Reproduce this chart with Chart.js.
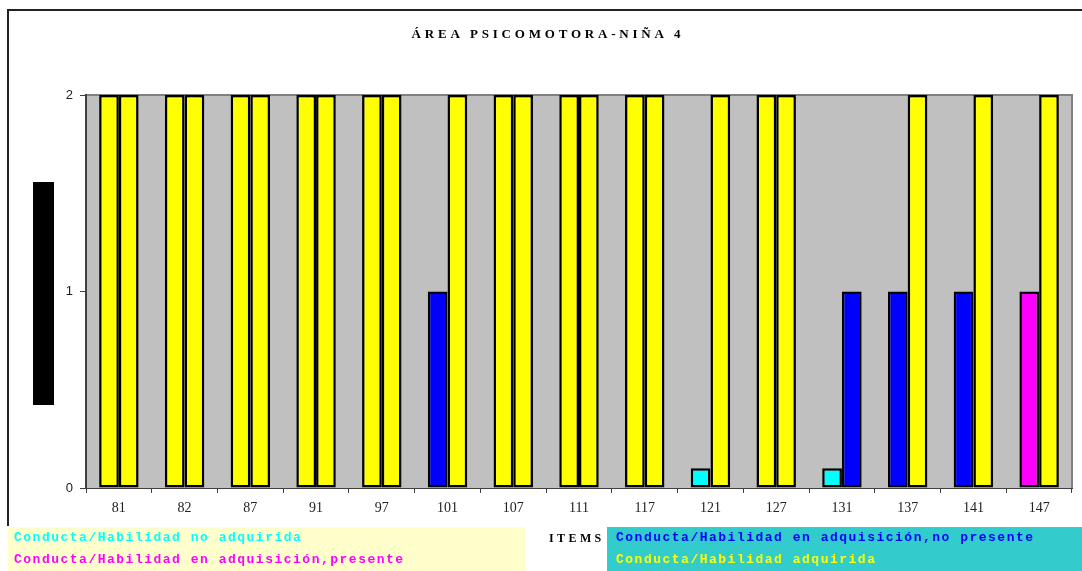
<!DOCTYPE html>
<html lang="es">
<head>
<meta charset="utf-8">
<title>Área psicomotora - Niña 4</title>
<script src="https://cdn.jsdelivr.net/npm/chart.js@4.4.1/dist/chart.umd.min.js"></script>
<style>
    html, body { margin: 0; padding: 0; background: #fff; }
    #contenedor { position: relative; width: 1082px; height: 571px; overflow: hidden; }
    #marco { position: absolute; left: 7px; top: 9px; width: 1090px; height: 517px;
             border-top: 2px solid #222; border-left: 2px solid #222; box-sizing: border-box; }
    #titulo { position: absolute; left: 0; width: 1096px; top: 26px; text-align: center;
              font: bold 13px 'Liberation Serif', serif; letter-spacing: 3.8px; color: #000; }
    #ejeY { position: absolute; left: 33px; top: 182px; width: 21px; height: 223px; background: #000; }
    #ejeX { position: absolute; left: 549px; top: 531px;
            font: bold 12px 'Liberation Serif', serif; letter-spacing: 3.4px; color: #000; }
    .leyenda { position: absolute; top: 527px; height: 44px; box-sizing: border-box;
               font: bold 13px 'Liberation Mono', monospace; letter-spacing: 1.5px; }
    .leyenda div { height: 22px; line-height: 22px; }
    #leyenda1 { left: 8px; width: 517px; background: #FFFFCC; padding-left: 6px; }
    #leyenda2 { left: 607px; width: 475px; background: #33CCCC; padding-left: 9px; }
    canvas { position: absolute; left: 0; top: 0; }
</style>
</head>
<body>
<div id="contenedor">
    <canvas id="graficoItems" width="1082" height="571"></canvas>
    <div id="marco"></div>
    <div id="titulo">ÁREA PSICOMOTORA-NIÑA 4</div>
    <div id="ejeY"></div>
    <div id="ejeX">ITEMS</div>
    <div class="leyenda" id="leyenda1">
        <div style="color:#00FFFF">Conducta/Habilidad no adquirida</div>
        <div style="color:#FF00FF">Conducta/Habilidad en adquisición,presente</div>
    </div>
    <div class="leyenda" id="leyenda2">
        <div style="color:#0000FF">Conducta/Habilidad en adquisición,no presente</div>
        <div style="color:#FFFF00">Conducta/Habilidad adquirida</div>
    </div>
</div>
<script>
// Ítems evaluados
const items = ['81', '82', '87', '91', '97', '101', '107', '111', '117', '121', '127', '131', '137', '141', '147'];

// Primera y segunda evaluación
const evaluacion1 = [2, 2, 2, 2, 2, 1, 2, 2, 2, 0.1, 2, 0.1, 1, 1, 1];
const evaluacion2 = [2, 2, 2, 2, 2, 2, 2, 2, 2, 2, 2, 1, 2, 2, 2];

// Estado de cada ítem: NA no adquirida, EN en adquisición no presente,
// EP en adquisición presente, A adquirida
const estado1 = ['A', 'A', 'A', 'A', 'A', 'EN', 'A', 'A', 'A', 'NA', 'A', 'NA', 'EN', 'EN', 'EP'];
const estado2 = ['A', 'A', 'A', 'A', 'A', 'A', 'A', 'A', 'A', 'A', 'A', 'EN', 'A', 'A', 'A'];

const ticksY = [0, 1, 2];

const coloresEstado = {
    NA: '#00FFFF',
    EN: '#0000FF',
    EP: '#FF00FF',
    A: '#FFFF00'
};

// Fondo gris del área de trazado y su borde superior/derecho
const fondoArea = {
    id: 'fondoArea',
    beforeDraw(chart) {
        const { ctx, chartArea: a } = chart;
        ctx.save();
        ctx.fillStyle = '#C0C0C0';
        ctx.fillRect(a.left, a.top, a.right - a.left, a.bottom - a.top);
        ctx.strokeStyle = '#808080';
        ctx.lineWidth = 2;
        ctx.beginPath();
        ctx.moveTo(a.left, a.top);
        ctx.lineTo(a.right, a.top);
        ctx.lineTo(a.right, a.bottom);
        ctx.stroke();
        ctx.restore();
    }
};

const ctx = document.getElementById('graficoItems').getContext('2d');

new Chart(ctx, {
    type: 'bar',
    data: {
        labels: items,
        datasets: [{
            label: 'Evaluación 1',
            data: evaluacion1,
            backgroundColor: estado1.map(e => coloresEstado[e]),
            borderColor: '#000',
            borderWidth: 2.5,
            borderSkipped: false
        }, {
            label: 'Evaluación 2',
            data: evaluacion2,
            backgroundColor: estado2.map(e => coloresEstado[e]),
            borderColor: '#000',
            borderWidth: 2.5,
            borderSkipped: false
        }]
    },
    options: {
        responsive: false,
        animation: false,
        layout: {
            padding: { top: 95, right: 10, bottom: 0, left: 0 }
        },
        datasets: {
            bar: {
                categoryPercentage: 0.6,
                barPercentage: 1
            }
        },
        scales: {
            x: {
                afterFit(axis) { axis.height = 83; },
                grid: {
                    offset: true,
                    drawOnChartArea: false,
                    tickLength: 5,
                    color: '#404040'
                },
                border: { color: '#404040', width: 1 },
                ticks: {
                    padding: 7,
                    color: '#222',
                    font: { family: "'Liberation Serif', serif", size: 14 }
                }
            },
            y: {
                min: 0,
                max: 2,
                afterFit(axis) { axis.width = 86; },
                afterBuildTicks(axis) { axis.ticks = ticksY.map(v => ({ value: v })); },
                grid: {
                    drawOnChartArea: false,
                    tickLength: 6,
                    color: '#404040'
                },
                border: { color: '#404040', width: 2 },
                ticks: {
                    padding: 7,
                    color: '#222',
                    font: { family: "'Liberation Sans', sans-serif", size: 13 }
                }
            }
        },
        plugins: {
            legend: { display: false },
            title: { display: false },
            tooltip: { enabled: false }
        }
    },
    plugins: [fondoArea]
});
</script>
</body>
</html>
